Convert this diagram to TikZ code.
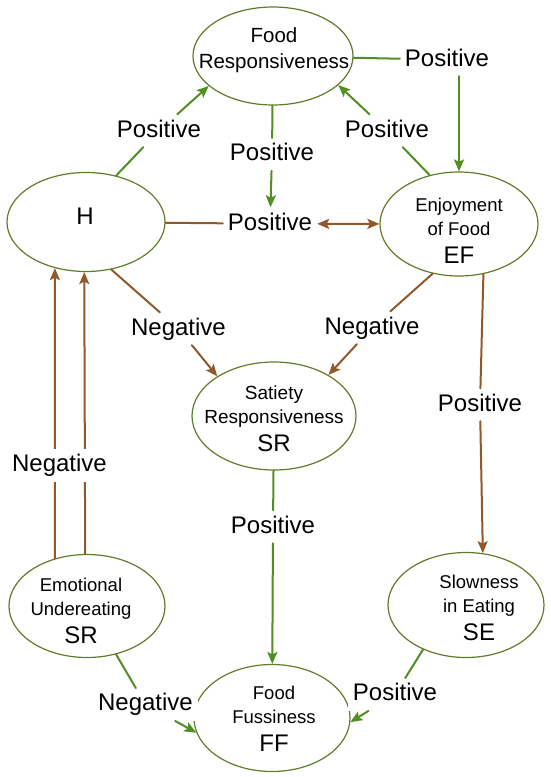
\documentclass[tikz,border=0pt]{standalone}
\usepackage{fontspec}
\setmainfont{Liberation Sans}
\usetikzlibrary{shapes.geometric,arrows.meta}

\definecolor{ringgreen}{RGB}{96,124,42}
\definecolor{arrowgreen}{RGB}{82,142,34}
\definecolor{arrowbrown}{RGB}{146,88,42}

\newcommand{\abbr}[1]{{\fontsize{24}{24}\selectfont #1}}

\begin{document}
\begin{tikzpicture}[x=1pt, y=-1pt, line cap=round, line join=round,
  >={Stealth[length=12pt,width=10pt,inset=2.5pt]},
  state/.style={ellipse, draw=ringgreen, line width=1.2pt, inner sep=0pt,
    minimum width=158pt, minimum height=104pt},
  statetext/.style={align=center, inner sep=0pt, font=\fontsize{18.5}{23.5}\selectfont},
  lab/.style={fill=white, inner sep=5pt, text height=17.5pt, text depth=5pt,
    font=\fontsize{24}{28}\selectfont},
  greenline/.style={draw=arrowgreen, line width=2pt},
  brownline/.style={draw=arrowbrown, line width=2pt}]

  \useasboundingbox (0,0) rectangle (550,777);

  % the seven scales
  \node[state, minimum width=160pt, minimum height=98pt] (FR) at (273,56) {};
  \node[state, minimum height=99pt] (H) at (86,222) {};
  \node[state] (EF) at (459,224) {};
  \node[state, minimum width=164pt, minimum height=108pt] (SR) at (274,416) {};
  \node[state, minimum width=156pt, minimum height=103pt] (EU) at (87,606) {};
  \node[state, minimum width=156pt, minimum height=105pt] (SE) at (466,605) {};
  \node[state, minimum width=156pt, minimum height=107pt] (FF) at (272,718) {};

  \node[statetext, font=\fontsize{20.5}{26}\selectfont] (FRt) at (274,50) {Food\\Responsiveness};
  \node[statetext] (Ht) at (85,216.5) {\abbr{H}};
  \node[statetext] (EFt) at (459,231) {Enjoyment\\of Food\\[4.5pt]\abbr{EF}};
  \node[statetext, font=\fontsize{19}{24}\selectfont] (SRt) at (274,419) {Satiety\\Responsiveness\\[4pt]\abbr{SR}};
  \node[statetext] (EUt) at (81,611) {Emotional\\Undereating\\[4.5pt]\abbr{SR}};
  \node[statetext] (SEt) at (479,608) {Slowness\\in Eating\\[5pt]\abbr{SE}};
  \node[statetext] (FFt) at (274,719) {Food\\Fussiness\\[5pt]\abbr{FF}};

  % link labels
  \node[lab] (l1) at (159,130.75) {Positive};
  \node[lab] (l2) at (272,154.5) {Positive};
  \node[lab] (l3) at (270,223.75) {Positive};
  \node[lab] (l4) at (387,130.75) {Positive};
  \node[lab] (l5) at (447,59.75) {Positive};
  \node[lab] (l6) at (178.5,328.75) {Negative};
  \node[lab] (l7) at (372,327.75) {Negative};
  \node[lab] (l8) at (480,404.75) {Positive};
  \node[lab] (l9) at (273,526.75) {Positive};
  \node[lab] (l11) at (145.5,704.5) {Negative};
  \node[lab] (l12) at (395,694.5) {Positive};

  % links
  \draw[greenline,->] (H.57) -- (l1) -- (FR.205);
  \draw[greenline,->] (FR) -- (l2) -- (l3);
  \draw[brownline,<->] (H) -- (l3) -- (EF);
  \draw[greenline,->] (EF.121) -- (l4) -- (FR.336);
  \draw[greenline] (FR) -- (l5);
  \draw[greenline,->] (l5.south -| EF) -- (EF);
  \draw[brownline,->] (H.298) -- (l6) -- (SR.145);
  \draw[brownline,->] (EF.242) -- (l7) -- (SR.37);
  \draw[brownline,->] (EF.296) -- (l8) -- (SE.72);
  \draw[greenline,->] (SR) -- (l9) -- (FF);
  \draw[brownline,->] (EU.124) -- (H.236);
  \draw[brownline,->] (EU.92) -- (H.268);
  \node[lab] (l10) at (59.5,465.5) {Negative};
  \draw[greenline,->] (EU.301) -- (l11) -- (FF.191);
  \draw[greenline,->] (SE.226) -- (l12) -- (FF.357);

\end{tikzpicture}
\end{document}
